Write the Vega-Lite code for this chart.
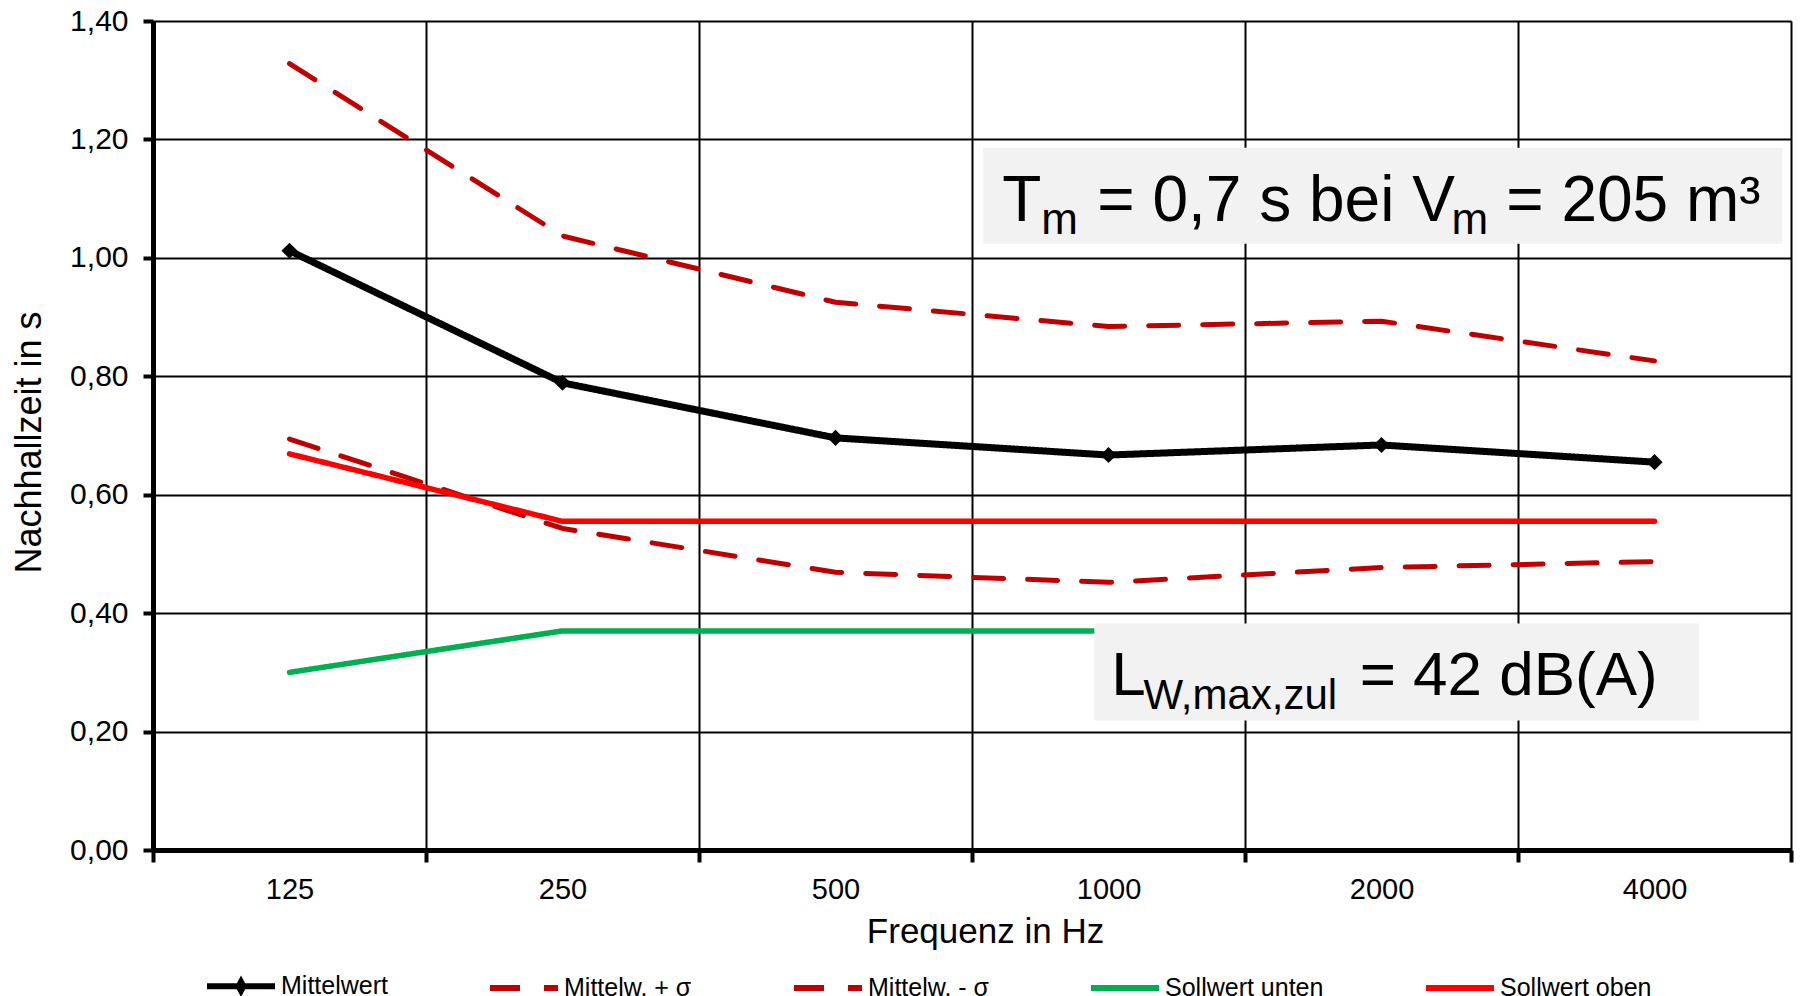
{
  "$schema": "https://vega.github.io/schema/vega-lite/v6.json",
  "width": 1638,
  "height": 829,
  "autosize": {"type": "none"},
  "padding": {"left": 153, "top": 21, "right": 9, "bottom": 146},
  "background": "white",
  "config": {
    "font": "Liberation Sans",
    "view": {"stroke": null},
    "axis": {
      "domainColor": "black",
      "gridColor": "black",
      "tickColor": "black",
      "labelColor": "black",
      "titleColor": "black",
      "labelFont": "Liberation Sans",
      "titleFont": "Liberation Sans",
      "titleFontWeight": "normal",
      "gridOpacity": 1
    }
  },
  "datasets": {
    "series": [
      {"freq": "125", "series": "Mittelwert", "value": 1.012},
      {"freq": "250", "series": "Mittelwert", "value": 0.789},
      {"freq": "500", "series": "Mittelwert", "value": 0.696},
      {"freq": "1000", "series": "Mittelwert", "value": 0.667},
      {"freq": "2000", "series": "Mittelwert", "value": 0.684},
      {"freq": "4000", "series": "Mittelwert", "value": 0.655},
      {"freq": "125", "series": "Mittelw. + σ", "value": 1.328},
      {"freq": "250", "series": "Mittelw. + σ", "value": 1.037},
      {"freq": "500", "series": "Mittelw. + σ", "value": 0.925},
      {"freq": "1000", "series": "Mittelw. + σ", "value": 0.884},
      {"freq": "2000", "series": "Mittelw. + σ", "value": 0.893},
      {"freq": "4000", "series": "Mittelw. + σ", "value": 0.826},
      {"freq": "125", "series": "Mittelw. - σ", "value": 0.694},
      {"freq": "250", "series": "Mittelw. - σ", "value": 0.543},
      {"freq": "500", "series": "Mittelw. - σ", "value": 0.469},
      {"freq": "1000", "series": "Mittelw. - σ", "value": 0.452},
      {"freq": "2000", "series": "Mittelw. - σ", "value": 0.477},
      {"freq": "4000", "series": "Mittelw. - σ", "value": 0.487},
      {"freq": "125", "series": "Sollwert unten", "value": 0.30},
      {"freq": "250", "series": "Sollwert unten", "value": 0.37},
      {"freq": "500", "series": "Sollwert unten", "value": 0.37},
      {"freq": "1000", "series": "Sollwert unten", "value": 0.37},
      {"freq": "2000", "series": "Sollwert unten", "value": 0.37},
      {"freq": "4000", "series": "Sollwert unten", "value": 0.37},
      {"freq": "125", "series": "Sollwert oben", "value": 0.669},
      {"freq": "250", "series": "Sollwert oben", "value": 0.555},
      {"freq": "500", "series": "Sollwert oben", "value": 0.555},
      {"freq": "1000", "series": "Sollwert oben", "value": 0.555},
      {"freq": "2000", "series": "Sollwert oben", "value": 0.555},
      {"freq": "4000", "series": "Sollwert oben", "value": 0.555}
    ],
    "boxes": [
      {"x1": 3.041, "x2": 5.968, "y1": 1.024, "y2": 1.186},
      {"x1": 3.448, "x2": 5.664, "y1": 0.2187, "y2": 0.3826}
    ],
    "box1main": [
      {"t": "T", "x": 3.111, "y": 1.0625},
      {"t": "= 0,7 s bei V", "x": 3.459, "y": 1.0625},
      {"t": "= 205 m³", "x": 4.957, "y": 1.0625}
    ],
    "box1sub": [
      {"t": "m", "x": 3.254, "y": 1.0407},
      {"t": "m", "x": 4.756, "y": 1.0407}
    ],
    "box2main": [
      {"t": "L", "x": 3.51, "y": 0.2618},
      {"t": "= 42 dB(A)", "x": 4.42, "y": 0.2618}
    ],
    "box2sub": [
      {"t": "W,max,zul", "x": 3.628, "y": 0.2385}
    ]
  },
  "layer": [
    {
      "data": {"name": "series"},
      "encoding": {
        "x": {
          "field": "freq",
          "type": "ordinal",
          "sort": ["125", "250", "500", "1000", "2000", "4000"],
          "scale": {"type": "band", "paddingInner": 0, "paddingOuter": 0},
          "bandPosition": 0.5,
          "axis": {
            "title": "Frequenz in Hz",
            "titleFontSize": 35,
            "titleX": 832,
            "titleY": 92,
            "titleBaseline": "alphabetic",
            "labelAngle": 0,
            "labelFontSize": 29,
            "labelPadding": 13,
            "tickBand": "extent",
            "grid": true,
            "gridWidth": 2,
            "domainWidth": 5,
            "tickWidth": 4,
            "tickSize": 12
          }
        },
        "y": {
          "field": "value",
          "type": "quantitative",
          "scale": {"domain": [0, 1.4], "nice": false},
          "axis": {
            "title": "Nachhallzeit in s",
            "titleFontSize": 36,
            "titleX": -113,
            "titleY": 421,
            "titleBaseline": "alphabetic",
            "titleAlign": "center",
            "values": [0, 0.2, 0.4, 0.6, 0.8, 1.0, 1.2, 1.4],
            "labelExpr": "replace(format(datum.value, '.2f'), '.', ',')",
            "labelFontSize": 30,
            "labelPadding": 15,
            "grid": true,
            "gridWidth": 2,
            "domainWidth": 5,
            "tickWidth": 4,
            "tickSize": 10
          }
        },
        "color": {
          "field": "series",
          "type": "nominal",
          "scale": {
            "domain": ["Mittelwert", "Mittelw. + σ", "Mittelw. - σ", "Sollwert unten", "Sollwert oben"],
            "range": ["#000000", "#C00000", "#C00000", "#00B050", "#FF0000"]
          },
          "legend": {
            "orient": "none",
            "direction": "horizontal",
            "columns": 5,
            "legendX": 51,
            "legendY": 928,
            "title": null,
            "padding": 0,
            "labelFontSize": 25,
            "labelFont": "Liberation Sans",
            "labelColor": "black",
            "labelLimit": 400,
            "labelOffset": 3,
            "symbolSize": 4624,
            "symbolType": "stroke",
            "symbolStrokeWidth": 6,
            "columnPadding": 90,
            "encode": {
              "symbols": {
                "update": {
                  "shape": {"signal": "datum.value === 'Mittelwert' ? 'M-1,0L1,0M0,-0.13L0.07,0L0,0.13L-0.07,0Z' : 'stroke'"},
                  "fill": {"signal": "datum.value === 'Mittelwert' ? 'black' : 'transparent'"}
                }
              }
            }
          }
        },
        "strokeDash": {
          "field": "series",
          "type": "nominal",
          "scale": {
            "domain": ["Mittelwert", "Mittelw. + σ", "Mittelw. - σ", "Sollwert unten", "Sollwert oben"],
            "range": [[1, 0], [30, 24], [30, 24], [1, 0], [1, 0]]
          }
        }
      },
      "layer": [
        {
          "transform": [{"filter": "datum.series === 'Mittelwert'"}],
          "mark": {"type": "line", "strokeCap": "round", "strokeJoin": "round", "strokeWidth": 7}
        },
        {
          "transform": [{"filter": "datum.series === 'Mittelw. + σ' || datum.series === 'Mittelw. - σ'"}],
          "mark": {"type": "line", "strokeCap": "round", "strokeJoin": "round", "strokeWidth": 5}
        },
        {
          "transform": [{"filter": "datum.series === 'Sollwert unten' || datum.series === 'Sollwert oben'"}],
          "mark": {"type": "line", "strokeCap": "round", "strokeJoin": "round", "strokeWidth": 5.5}
        },
        {
          "transform": [{"filter": "datum.series === 'Mittelwert'"}],
          "mark": {"type": "point", "shape": "diamond", "filled": true, "color": "black", "size": 260, "opacity": 1},
          "encoding": {"color": {"value": "black"}, "strokeDash": {"value": [1, 0]}}
        }
      ]
    },
    {
      "data": {"name": "boxes"},
      "mark": {"type": "rect", "fill": "#F2F2F2"},
      "encoding": {
        "x": {"field": "x1", "type": "quantitative", "scale": {"domain": [0, 6], "nice": false, "zero": false}, "axis": null},
        "x2": {"field": "x2"},
        "y": {"field": "y1", "type": "quantitative"},
        "y2": {"field": "y2"}
      }
    },
    {
      "data": {"name": "box1main"},
      "mark": {"type": "text", "align": "left", "baseline": "alphabetic", "fontSize": 64, "font": "Liberation Sans", "color": "black"},
      "encoding": {
        "x": {"field": "x", "type": "quantitative", "scale": {"domain": [0, 6], "nice": false, "zero": false}, "axis": null},
        "y": {"field": "y", "type": "quantitative"},
        "text": {"field": "t"}
      }
    },
    {
      "data": {"name": "box1sub"},
      "mark": {"type": "text", "align": "left", "baseline": "alphabetic", "fontSize": 44, "font": "Liberation Sans", "color": "black"},
      "encoding": {
        "x": {"field": "x", "type": "quantitative", "scale": {"domain": [0, 6], "nice": false, "zero": false}, "axis": null},
        "y": {"field": "y", "type": "quantitative"},
        "text": {"field": "t"}
      }
    },
    {
      "data": {"name": "box2main"},
      "mark": {"type": "text", "align": "left", "baseline": "alphabetic", "fontSize": 62, "font": "Liberation Sans", "color": "black"},
      "encoding": {
        "x": {"field": "x", "type": "quantitative", "scale": {"domain": [0, 6], "nice": false, "zero": false}, "axis": null},
        "y": {"field": "y", "type": "quantitative"},
        "text": {"field": "t"}
      }
    },
    {
      "data": {"name": "box2sub"},
      "mark": {"type": "text", "align": "left", "baseline": "alphabetic", "fontSize": 42, "font": "Liberation Sans", "color": "black"},
      "encoding": {
        "x": {"field": "x", "type": "quantitative", "scale": {"domain": [0, 6], "nice": false, "zero": false}, "axis": null},
        "y": {"field": "y", "type": "quantitative"},
        "text": {"field": "t"}
      }
    }
  ],
  "resolve": {"scale": {"x": "independent"}}
}
